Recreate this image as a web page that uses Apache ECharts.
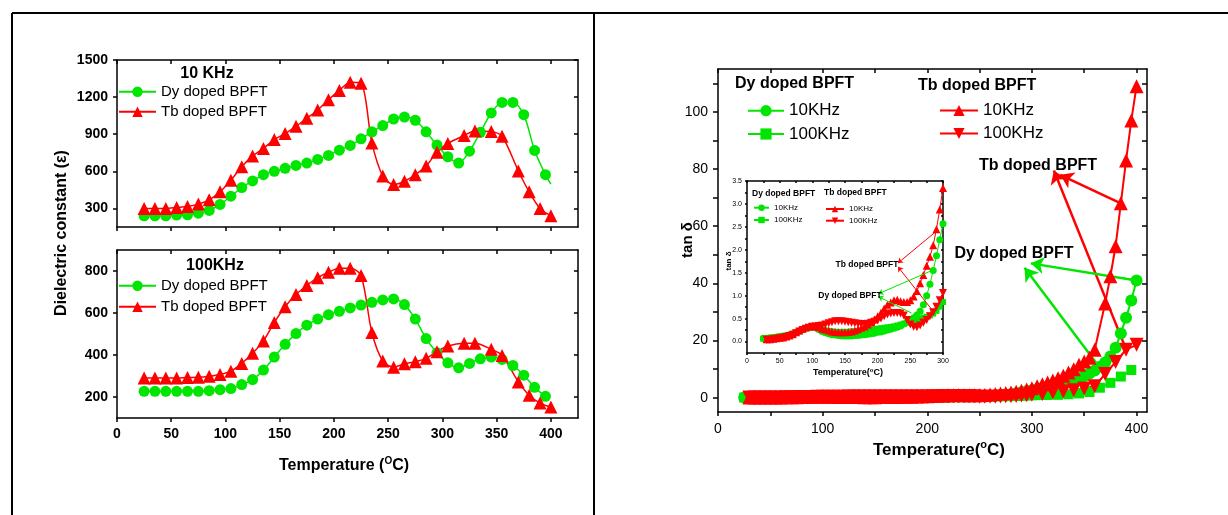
<!DOCTYPE html>
<html>
<head>
<meta charset="utf-8">
<script src="https://cdn.jsdelivr.net/npm/echarts@6/dist/echarts.min.js"></script>
<style>
  html, body { margin: 0; padding: 0; background: #fff; }
  #chart { width: 1228px; height: 515px; }
</style>
</head>
<body>
<div id="chart"></div>
<script>
// ---------- Dielectric constant vs temperature ----------
const tempDy = [25,35,45,55,65,75,85,95,105,115,125,135,145,155,165,175,185,195,205,215,225,235,245,255,265,275,285,295,305,315,325,335,345,355,365,375,385,395];
const epsDy10k = [241,241,241,246,249,262,284,332,399,469,522,573,600,624,648,667,696,729,771,809,863,919,970,1023,1039,1013,919,812,718,667,763,916,1072,1157,1157,1058,769,573];
const epsDy10kTail = [400, 496];
const epsDy100k = [227,227,227,227,227,227,230,235,240,259,283,328,390,451,502,542,571,592,608,624,638,651,662,667,640,571,478,411,363,339,360,382,390,379,350,304,246,203];

const tempTb = [25,35,45,55,65,75,85,95,105,115,125,135,145,155,165,175,185,195,205,215,225,235,245,255,265,275,285,295,305,320,330,345,355,370,380,390,400];
const epsTb10k = [300,300,300,308,316,335,370,434,528,638,723,785,857,905,964,1029,1096,1179,1254,1321,1313,830,562,493,520,573,643,755,825,889,927,921,884,603,434,300,241];
const epsTb100k = [291,291,291,291,293,294,299,307,323,360,408,467,555,630,688,731,768,794,813,813,779,507,371,342,358,368,384,416,443,456,456,427,398,272,208,171,152];

// ---------- Loss tangent, 25-300 °C ----------
const tLossDy = [25,30,35,40,45,50,55,60,65,70,75,80,85,90,95,100,105,110,115,120,125,130,135,140,145,150,155,160,165,170,175,180,185,190,195,200,205,210,215,220,225,230,235,240,245,250,255,260,265,270,275,280,285,290,295,300];
const lossDy10k = [0.07,0.07,0.08,0.09,0.10,0.11,0.12,0.13,0.15,0.17,0.20,0.23,0.26,0.29,0.31,0.32,0.30,0.26,0.22,0.19,0.17,0.15,0.14,0.13,0.12,0.12,0.12,0.12,0.13,0.13,0.14,0.15,0.16,0.17,0.18,0.20,0.21,0.23,0.25,0.27,0.29,0.31,0.34,0.38,0.42,0.47,0.52,0.58,0.66,0.80,1.00,1.25,1.55,1.87,2.22,2.57];
const lossDy100k = [0.06,0.06,0.07,0.08,0.09,0.10,0.11,0.12,0.14,0.16,0.19,0.22,0.25,0.28,0.30,0.31,0.30,0.28,0.26,0.24,0.23,0.22,0.21,0.21,0.21,0.21,0.21,0.22,0.22,0.23,0.23,0.24,0.25,0.26,0.27,0.28,0.29,0.30,0.31,0.32,0.33,0.35,0.37,0.39,0.41,0.44,0.46,0.48,0.50,0.52,0.54,0.57,0.61,0.67,0.76,0.86];
const tLossTb = [30,35,40,45,50,55,60,65,70,75,80,85,90,95,100,105,110,115,120,125,130,135,140,145,150,155,160,165,170,175,180,185,190,195,200,205,210,215,220,225,230,235,240,245,250,255,260,265,270,275,280,285,290,295,300];
const lossTb10k = [0.05,0.05,0.06,0.07,0.08,0.09,0.11,0.13,0.16,0.20,0.24,0.28,0.31,0.33,0.34,0.33,0.31,0.28,0.26,0.24,0.22,0.21,0.20,0.20,0.20,0.21,0.22,0.24,0.27,0.30,0.33,0.37,0.42,0.48,0.55,0.63,0.72,0.80,0.85,0.90,0.91,0.88,0.86,0.86,0.90,0.98,1.10,1.27,1.45,1.65,1.85,2.10,2.45,2.88,3.35];
const lossTb100k = [0.04,0.04,0.05,0.06,0.07,0.08,0.10,0.12,0.15,0.18,0.22,0.25,0.28,0.30,0.32,0.33,0.34,0.35,0.37,0.40,0.42,0.44,0.44,0.44,0.43,0.42,0.41,0.40,0.39,0.38,0.38,0.39,0.41,0.43,0.46,0.50,0.55,0.59,0.61,0.62,0.62,0.61,0.57,0.47,0.37,0.32,0.31,0.35,0.41,0.47,0.55,0.64,0.76,0.90,1.06];

// ---------- Loss tangent, above 300 °C ----------
const tHiDy10k = [305,310,315,320,325,330,335,340,345,350,355,360,365,370,375,380,385,390,395,400];
const lossHiDy10k = [3.0,3.4,3.8,4.2,4.6,5.0,5.5,6.0,6.8,7.6,8.5,9.5,10.8,12.3,14.4,17.5,22.5,28,34,41];
const tHiDy100k = [305,315,325,335,345,355,365,375,385,395];
const lossHiDy100k = [0.9,0.95,1.0,1.2,1.5,2.0,3.5,5.2,7.4,9.7];
const tHiTb10k = [305,310,315,320,325,330,335,340,345,350,355,360,370,375,380,385,390,395,400];
const lossHiTb10k = [4.0,4.7,5.3,6.0,6.8,7.7,8.8,10.0,11.5,12.7,14.0,16.8,33,42.5,53,68,83,97,109];
const tHiTb100k = [310,320,330,340,350,360,370,380,390,400];
const lossHiTb100k = [1.3,1.8,2.2,2.6,3.2,4.0,8.3,12.5,16.8,18.5];

// ---------- Tick values ----------
const epsTempTicks = [0,50,100,150,200,250,300,350,400];
const eps10kTicks = [300,600,900,1200,1500];
const eps100kTicks = [200,400,600,800];
const lossTempTicks = [0,50,100,150,200,250,300,350,400];
const lossTempLabels = [0,100,200,300,400];
const lossTicks = [0,10,20,30,40,50,60,70,80,90,100,110];
const lossLabels = [0,20,40,60,80,100];
const zoomTempTicks = [0,25,50,75,100,125,150,175,200,225,250,275,300];
const zoomTempLabels = [0,50,100,150,200,250,300];
const zoomLossTicks = [0,0.25,0.5,0.75,1,1.25,1.5,1.75,2,2.25,2.5,2.75,3,3.25,3.5];
const zoomLossLabels = [0,0.5,1,1.5,2,2.5,3,3.5];

// ---------- Styling ----------
const FONT = '"Liberation Sans", Arial, sans-serif';
const GREEN = '#00e600';
const RED = '#ff0000';
const INK = '#000';
const frameLine = { color: INK, width: 1.5 };

const pairs = (xs, ys) => xs.map((x, i) => [x, ys[i]]);

function axisPair(dim, gridIndex, min, max, ticks, labels, tickLen, labelStyle) {
  const base = {
    type: 'value', gridIndex, min, max,
    splitLine: { show: false },
    axisLine: { show: true, onZero: false, lineStyle: frameLine }
  };
  const main = Object.assign({}, base, {
    position: dim === 'x' ? 'bottom' : 'left',
    axisTick: { show: true, inside: false, length: tickLen, customValues: ticks, lineStyle: frameLine },
    axisLabel: labels
      ? Object.assign({ show: true, customValues: labels, color: INK, fontFamily: FONT, formatter: v => String(v) }, labelStyle)
      : { show: false }
  });
  const mirror = Object.assign({}, base, {
    position: dim === 'x' ? 'top' : 'right',
    axisTick: { show: true, inside: true, length: tickLen, customValues: ticks, lineStyle: frameLine },
    axisLabel: { show: false }
  });
  return [main, mirror];
}

const boldTick = { fontSize: 14, fontWeight: 'bold', margin: 9 };
const plainTick = { fontSize: 14, margin: 10 };
const tinyTick = { fontSize: 7, margin: 5 };

const xAxis = [
  ...axisPair('x', 0, 0, 425, epsTempTicks, null, 4),
  ...axisPair('x', 1, 0, 425, epsTempTicks, epsTempTicks, 4, boldTick),
  ...axisPair('x', 2, 0, 410, lossTempTicks, lossTempLabels, 4, plainTick),
  ...axisPair('x', 3, 0, 300, zoomTempTicks, zoomTempLabels, 2, tinyTick)
];
const yAxis = [
  ...axisPair('y', 0, 150, 1500, eps10kTicks, eps10kTicks, 4, boldTick),
  ...axisPair('y', 1, 100, 900, eps100kTicks, eps100kTicks, 4, boldTick),
  ...axisPair('y', 2, -5, 115, lossTicks, lossLabels, 5, plainTick),
  ...axisPair('y', 3, -0.25, 3.5, zoomLossTicks, zoomLossLabels, 2,
    Object.assign({}, tinyTick, { formatter: v => v.toFixed(1) }))
];
// the small panel sits above the large one
xAxis[6].z = xAxis[7].z = yAxis[6].z = yAxis[7].z = 11;

function curve(name, data, color, symbol, size, axis, opts) {
  return Object.assign({
    type: 'line', name, data,
    xAxisIndex: axis, yAxisIndex: axis,
    symbol, symbolSize: size,
    itemStyle: { color },
    lineStyle: { color, width: 1.5 },
    emphasis: { disabled: true },
    smooth: false
  }, opts || {});
}

function arrows(name, segs, color, width, head, axis, z) {
  return {
    type: 'lines', name, coordinateSystem: 'cartesian2d',
    xAxisIndex: axis, yAxisIndex: axis,
    symbol: ['none', 'arrow'], symbolSize: head,
    lineStyle: { color, width, opacity: 1, curveness: 0 },
    data: segs.map(s => ({ coords: s })),
    z: z || 3, silent: true
  };
}

const leftOpts = { smooth: 0.3 };

const series = [
  curve('eps Dy 10 KHz', pairs(tempDy, epsDy10k).concat([{ value: epsDy10kTail, symbol: 'none' }]), GREEN, 'circle', 11, 0, leftOpts),
  curve('eps Tb 10 KHz', pairs(tempTb, epsTb10k), RED, 'triangle', 13, 0, leftOpts),
  curve('eps Dy 100KHz', pairs(tempDy, epsDy100k), GREEN, 'circle', 11, 2, leftOpts),
  curve('eps Tb 100KHz', pairs(tempTb, epsTb100k), RED, 'triangle', 13, 2, leftOpts),

  curve('tan Dy 10KHz', pairs(tLossDy, lossDy10k).concat(pairs(tHiDy10k, lossHiDy10k)), GREEN, 'circle', 12, 4, { lineStyle: { color: GREEN, width: 2 } }),
  curve('tan Dy 100KHz', pairs(tLossDy, lossDy100k).concat(pairs(tHiDy100k, lossHiDy100k)), GREEN, 'rect', 10, 4, { lineStyle: { color: GREEN, width: 2 } }),
  curve('tan Tb 10KHz', pairs(tLossTb, lossTb10k).concat(pairs(tHiTb10k, lossHiTb10k)), RED, 'triangle', 14, 4, { lineStyle: { color: RED, width: 2 } }),
  curve('tan Tb 100KHz', pairs(tLossTb, lossTb100k).concat(pairs(tHiTb100k, lossHiTb100k)), RED, 'triangle', 14, 4, { symbolRotate: 180, lineStyle: { color: RED, width: 2 } }),
  arrows('Tb pointers', [[[385, 68], [327, 78]], [[390, 17], [321, 79.5]]], RED, 2.5, 13, 4),
  arrows('Dy pointers', [[[400, 41], [299, 47]], [[368, 9], [293, 45.5]]], GREEN, 2.5, 13, 4),

  curve('low Dy 10KHz', pairs(tLossDy, lossDy10k), GREEN, 'circle', 7, 6, { lineStyle: { color: GREEN, width: 1 }, z: 12 }),
  curve('low Dy 100KHz', pairs(tLossDy, lossDy100k), GREEN, 'rect', 6, 6, { lineStyle: { color: GREEN, width: 1 }, z: 12 }),
  curve('low Tb 10KHz', pairs(tLossTb, lossTb10k), RED, 'triangle', 8, 6, { lineStyle: { color: RED, width: 1 }, z: 12 }),
  curve('low Tb 100KHz', pairs(tLossTb, lossTb100k), RED, 'triangle', 8, 6, { symbolRotate: 180, lineStyle: { color: RED, width: 1 }, z: 12 }),
  arrows('low Tb pointers', [[[292, 2.43], [231, 1.71]], [[285, 0.66], [231, 1.63]]], RED, 1, 5, 6, 13),
  arrows('low Dy pointers', [[[285, 1.56], [201, 1.04]], [[252, 0.62], [201, 0.98]]], GREEN, 1, 5, 6, 13)
];

// legend rows: text shown next to each line+marker sample
const legendText = {
  'eps Dy 10 KHz': 'Dy doped BPFT', 'eps Tb 10 KHz': 'Tb doped BPFT',
  'eps Dy 100KHz': 'Dy doped BPFT', 'eps Tb 100KHz': 'Tb doped BPFT',
  'tan Dy 10KHz': '10KHz', 'tan Dy 100KHz': '100KHz', 'tan Tb 10KHz': '10KHz', 'tan Tb 100KHz': '100KHz',
  'low Dy 10KHz': '10KHz', 'low Dy 100KHz': '100KHz', 'low Tb 10KHz': '10KHz', 'low Tb 100KHz': '100KHz'
};
const legendRows = [
  ['eps Dy 10 KHz', 118, 91.7, 37, 13, 15],
  ['eps Tb 10 KHz', 118, 111.7, 37, 13, 15],
  ['eps Dy 100KHz', 118, 285.7, 37, 13, 15],
  ['eps Tb 100KHz', 118, 306.7, 37, 13, 15],
  ['tan Dy 10KHz', 747, 110.7, 36, 14, 17],
  ['tan Dy 100KHz', 747, 134, 36, 14, 17],
  ['tan Tb 10KHz', 939, 110.5, 38, 14, 17],
  ['tan Tb 100KHz', 939, 133.5, 38, 14, 17],
  ['low Dy 10KHz', 753, 207.7, 15, 8, 8],
  ['low Dy 100KHz', 753, 220, 15, 8, 8],
  ['low Tb 10KHz', 825, 209, 18, 8, 8],
  ['low Tb 100KHz', 825, 220.7, 18, 8, 8]
];
const legend = legendRows.map(([name, left, cy, w, h, fs]) => ({
  data: [name], left, top: cy - Math.max(h, fs) / 2,
  padding: 0, itemWidth: w, itemHeight: h, selectedMode: false,
  formatter: n => legendText[n],
  textStyle: { fontFamily: FONT, fontSize: fs, color: INK },
  z: 14
}));

function label(text, x, y, size, opts) {
  return Object.assign({
    type: 'text', x, y, z: 20,
    style: Object.assign({
      text, fill: INK, font: 'bold ' + size + 'px ' + FONT,
      align: 'center', verticalAlign: 'middle'
    }, (opts && opts.style) || {})
  }, opts && opts.rotation ? { rotation: opts.rotation } : {});
}
function tempTitle(x, y, size, sup, gap) {
  return {
    type: 'text', x, y, z: 20,
    style: {
      text: '{b|Temperature' + gap + '(}{s|' + sup + '}{b|C)}',
      align: 'center', verticalAlign: 'middle',
      rich: {
        b: { fontFamily: FONT, fontWeight: 'bold', fontSize: size, fill: INK, lineHeight: size * 1.25 },
        s: { fontFamily: FONT, fontWeight: 'bold', fontSize: Math.round(size * 0.62), fill: INK, verticalAlign: 'top', lineHeight: size * 0.6 }
      }
    }
  };
}

const graphic = [
  { type: 'line', shape: { x1: 12, y1: 13, x2: 1228, y2: 13 }, style: { stroke: INK, lineWidth: 2 } },
  { type: 'line', shape: { x1: 12, y1: 13, x2: 12, y2: 515 }, style: { stroke: INK, lineWidth: 2 } },
  { type: 'line', shape: { x1: 594, y1: 13, x2: 594, y2: 515 }, style: { stroke: INK, lineWidth: 2 } },

  label('10 KHz', 207, 74, 16),
  label('100KHz', 215, 266, 16),
  label('Dielectric constant (ε)', 62, 233, 16, { rotation: Math.PI / 2 }),
  tempTitle(344, 466, 16, 'O', ' '),

  label('Dy doped BPFT', 735, 84, 16, { style: { align: 'left' } }),
  label('Tb doped BPFT', 918, 86, 16, { style: { align: 'left' } }),
  label('Tb doped BPFT', 1038, 166, 16),
  label('Dy doped BPFT', 1014, 254, 16),
  label('tan δ', 688, 240, 15, { rotation: Math.PI / 2 }),
  tempTitle(939, 450, 17, 'o', ''),

  label('Dy doped BPFT', 752, 194, 8.5, { style: { align: 'left' } }),
  label('Tb doped BPFT', 824, 193, 8.5, { style: { align: 'left' } }),
  label('Tb doped BPFT', 867, 265, 8.5),
  label('Dy doped BPFT', 850, 296, 8.5),
  label('tan δ', 729, 261, 8, { rotation: Math.PI / 2 }),
  tempTitle(848, 373, 9, 'o', '')
];

const option = {
  animation: false,
  backgroundColor: '#fff',
  textStyle: { fontFamily: FONT },
  grid: [
    { left: 117, top: 60, width: 461, height: 167 },
    { left: 117, top: 250, width: 461, height: 168 },
    { left: 718, top: 69, width: 429, height: 343 },
    { left: 747, top: 181, width: 196, height: 172, show: true, backgroundColor: '#fff', borderWidth: 0, z: 10 }
  ],
  xAxis, yAxis, series, legend, graphic
};

const chart = echarts.init(document.getElementById('chart'));
chart.setOption(option);
</script>
</body>
</html>
